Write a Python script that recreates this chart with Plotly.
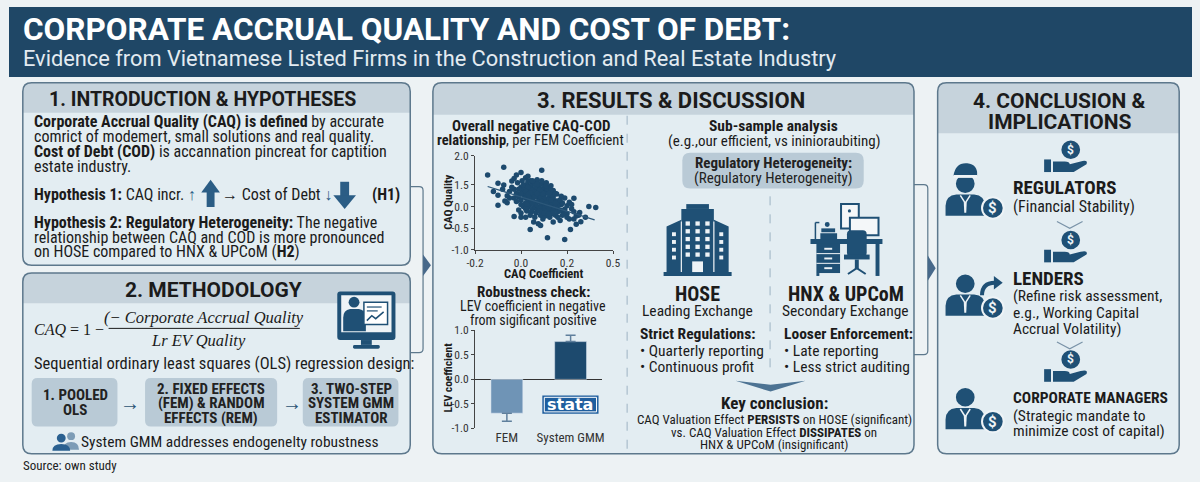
import plotly.graph_objects as go

W, H = 1200, 482

# FEM scatter: CAQ coefficient (x) vs CAQ quality (y)
CAQ_COEF = [
    -0.145, -0.075, 0.0, 0.09, -0.02, -0.1, -0.075, -0.1, -0.1, -0.03, 0.04, 0.115,
    0.19, 0.215, 0.24, 0.295, 0.325, 0.255, 0.23, 0.19, 0.2, 0.21, 0.23, 0.17,
    0.14, 0.075, 0.085, 0.095, 0.055, 0.0, 0.02, -0.06, -0.05, -0.07, -0.04, -0.03,
    0.02, 0.03, 0.05, 0.09, 0.1, 0.14, 0.155, 0.175, 0.155, 0.175, 0.18, 0.19,
    0.0, 0.01, 0.02, 0.03, 0.04, 0.05, 0.06, 0.07, 0.08, 0.09,
    0.1, 0.11, 0.12, 0.13, 0.14, -0.02, -0.01, 0.0, 0.01, 0.02,
    0.03, 0.04, 0.05, 0.06, 0.07, 0.08, 0.09, 0.1, 0.11, 0.12,
    0.13, 0.14, 0.15, 0.16, -0.03, -0.02, 0.0, 0.01, 0.02, 0.03,
    0.04, 0.05, 0.06, 0.07, 0.08, 0.09, 0.1, 0.11, 0.12, 0.13,
    0.14, 0.15, 0.16, 0.17, 0.02, 0.04, 0.06, 0.08, 0.1, 0.12,
    0.035, 0.055, 0.075, 0.095, 0.115, 0.045, 0.065, 0.085, 0.105, 0.125,
    0.025, 0.045, 0.065, 0.085, 0.105, 0.125, -0.01, 0.015, 0.06, 0.08,
    0.1, 0.12, 0.14, 0.16, 0.18, 0.19, 0.2, 0.22, 0.23, 0.21,
    -0.015, 0.005, 0.03, 0.07, 0.11, 0.13, -0.05, -0.04, -0.06, 0.25,
    0.26, 0.24, 0.035, 0.055, 0.075, 0.095, 0.045, 0.065, 0.085, 0.025,
    0.115, 0.135,
    0.01, 0.03, 0.05, 0.07, 0.09, 0.11, 0.13, 0.15, 0.0, 0.02,
    0.04, 0.06, 0.08, 0.1, 0.12, 0.14, 0.16, 0.18, 0.06, 0.04,
    0.02, -0.01, -0.03, 0.0, 0.07, 0.09, 0.11, 0.13, 0.15, 0.17,
    0.05, 0.03, 0.08, 0.1, 0.12, 0.2, 0.22, -0.08, -0.12, 0.28,
]
CAQ_QUAL = [
    0.73, 0.91, 0.79, 0.84, 0.73, 0.54, 0.5, 0.26, 0.03, -0.23, -0.53, -0.72,
    -0.76, -0.53, -0.41, 0.0, -0.02, -0.14, 0.19, 0.2, -0.16, -0.29, -0.29, -0.32,
    -0.36, -0.4, -0.44, -0.29, -0.36, -0.25, -0.25, 0.09, 0.2, 0.13, 0.59, 0.65,
    0.67, 0.58, 0.52, 0.54, 0.37, 0.37, 0.29, 0.24, 0.13, 0.05, -0.1, -0.06,
    0.45, 0.38, 0.42, 0.35, 0.48, 0.4, 0.33, 0.45, 0.3, 0.4,
    0.25, 0.32, 0.2, 0.27, 0.15, 0.3, 0.22, 0.15, 0.28, 0.2,
    0.12, 0.25, 0.18, 0.1, 0.22, 0.15, 0.05, 0.12, 0.02, 0.08,
    -0.02, 0.05, -0.05, 0.02, 0.4, 0.12, 0.05, 0.0, 0.08, -0.02,
    0.05, -0.05, 0.0, -0.08, -0.02, -0.12, -0.05, -0.15, -0.1, -0.18,
    -0.08, -0.2, -0.12, -0.08, 0.5, 0.6, 0.55, 0.5, 0.45, 0.4,
    0.3, 0.28, 0.35, 0.2, 0.15, 0.15, 0.05, 0.08, -0.02, 0.05,
    -0.1, -0.12, -0.15, -0.2, -0.22, -0.25, -0.08, 0.32, 0.42, 0.22,
    0.3, -0.03, 0.22, 0.12, 0.08, -0.15, 0.02, -0.05, -0.12, 0.1,
    0.55, 0.6, 0.7, 0.62, 0.55, 0.48, 0.35, 0.45, 0.25, -0.2,
    -0.35, -0.22, 0.2, 0.35, 0.12, 0.3, 0.38, 0.25, 0.4, 0.05,
    0.42, 0.1,
    0.5, 0.45, 0.6, 0.52, 0.6, 0.48, 0.38, 0.3, 0.3, 0.35,
    0.32, 0.22, 0.38, 0.18, 0.3, -0.15, -0.25, -0.2, -0.25, -0.2,
    -0.05, 0.4, 0.2, -0.15, 0.3, 0.12, 0.08, 0.15, 0.08, 0.15,
    0.08, 0.28, -0.1, -0.15, -0.18, -0.25, 0.05, 0.4, 0.35, -0.25,
]
TREND_X = [-0.145, 0.32]
TREND_Y = [0.465, -0.31]
SCATTER_XTICKS = ["-0.2", "0.0", "0.2", "0.5"]
SCATTER_YTICKS = ["-1.0", "-0.5", "0.0", "1.5", "2.0"]

# robustness check bars
MODELS = ["FEM", "System GMM"]
LEV_COEF = [-0.69, 0.77]
LEV_ERR_UP = [0, 0.13]
LEV_ERR_DOWN = [0.165, 0]
BAR_YTICKS = ["-1.0", "-0.5", "0.0", "0.5", "1.0"]

NAVY = "#1f4766"
ICON = "#1f5075"
INK = "#1b1b1b"
BAND = "#c6d3dc"
PANEL = "#e3edf2"
EDGE = "#5d788c"
BG = "#edf2f4"
LIGHT = "#eef3f6"
BOX = "#b9cad6"
NARROW = "Liberation Sans Narrow, Roboto Condensed, Arial Narrow, Roboto, sans-serif"
WIDE = "Roboto, Liberation Sans, sans-serif"
SERIF = "Liberation Serif, DejaVu Serif, serif"

shapes, ann = [], []


def X(x):
    return x / W


def Y(y):
    return 1 - y / H


def P(*parts):
    out = []
    for p in parts:
        if isinstance(p, str):
            out.append(p)
        else:
            out.append(f"{X(p[0]):.5f},{Y(p[1]):.5f}")
    return " ".join(out)


def add_path(d, fill=None, line=None, width=0, layer="below"):
    shapes.append(dict(type="path", xref="paper", yref="paper", path=d,
                       fillcolor=fill or "rgba(0,0,0,0)",
                       line=dict(color=line or "rgba(0,0,0,0)", width=width),
                       layer=layer))


def add_rect(x0, y0, x1, y1, fill, line=None, width=0, layer="below"):
    shapes.append(dict(type="rect", xref="paper", yref="paper",
                       x0=X(x0), x1=X(x1), y0=Y(y1), y1=Y(y0), fillcolor=fill,
                       line=dict(color=line or "rgba(0,0,0,0)", width=width),
                       layer=layer))


def add_line(x0, y0, x1, y1, color, width=1, dash=None, layer="below"):
    shapes.append(dict(type="line", xref="paper", yref="paper",
                       x0=X(x0), x1=X(x1), y0=Y(y0), y1=Y(y1),
                       line=dict(color=color, width=width, dash=dash), layer=layer))


def add_circle(cx, cy, r, fill, line=None, width=0, layer="below"):
    shapes.append(dict(type="circle", xref="paper", yref="paper",
                       x0=X(cx - r), x1=X(cx + r), y0=Y(cy + r), y1=Y(cy - r),
                       fillcolor=fill,
                       line=dict(color=line or "rgba(0,0,0,0)", width=width),
                       layer=layer))


def rr(x0, y0, x1, y1, r, square_bottom=False):
    if square_bottom:
        return P("M", (x0 + r, y0), "L", (x1 - r, y0), "Q", (x1, y0), (x1, y0 + r),
                 "L", (x1, y1), "L", (x0, y1), "L", (x0, y0 + r),
                 "Q", (x0, y0), (x0 + r, y0), "Z")
    return P("M", (x0 + r, y0), "L", (x1 - r, y0), "Q", (x1, y0), (x1, y0 + r),
             "L", (x1, y1 - r), "Q", (x1, y1), (x1 - r, y1), "L", (x0 + r, y1),
             "Q", (x0, y1), (x0, y1 - r), "L", (x0, y0 + r),
             "Q", (x0, y0), (x0 + r, y0), "Z")


def T(x, y, s, size=15, color=INK, anchor="left", family=NARROW, angle=0):
    ann.append(dict(x=X(x), y=Y(y), xref="paper", yref="paper", text=s,
                    showarrow=False, xanchor=anchor, yanchor="middle", borderpad=0,
                    textangle=angle, font=dict(size=size, color=color, family=family)))


def panel(x0, y0, x1, y1, band):
    add_path(rr(x0, y0, x1, y1, 9), fill=PANEL)
    add_path(rr(x0, y0, x1, band, 9, square_bottom=True), fill=BAND)
    add_path(rr(x0, y0, x1, y1, 9), line=EDGE, width=1.5)


def person(hx, hy, kind=None):
    add_circle(hx, hy, 9.5, ICON)
    add_path(P("M", (hx - 20, hy + 33), "L", (hx - 20, hy + 23), "Q", (hx - 20, hy + 12), (hx - 9, hy + 11),
               "L", (hx + 9, hy + 11), "Q", (hx + 20, hy + 12), (hx + 20, hy + 23),
               "L", (hx + 20, hy + 33), "Z"), fill=ICON)
    add_path(P("M", (hx - 5, hy + 12), "L", (hx, hy + 20), "L", (hx + 5, hy + 12)), line=LIGHT, width=1.5)
    add_path(P("M", (hx - 1.5, hy + 19), "L", (hx + 1.5, hy + 19), "L", (hx + 1, hy + 30),
               "L", (hx - 1, hy + 30), "Z"), fill=LIGHT)
    if kind == "officer":
        add_path(P("M", (hx - 12, hy - 8), "Q", (hx - 10, hy - 22), (hx + 2, hy - 21),
                   "Q", (hx + 13, hy - 20), (hx + 12, hy - 8), "Z"), fill=ICON)
        add_rect(hx - 12, hy - 9, hx + 12, hy - 6, LIGHT)
    if kind == "lender":
        add_path(P("M", (hx + 17, hy + 12), "Q", (hx + 17, hy - 1), (hx + 30, hy - 1)), line=ICON, width=4)
        add_path(P("M", (hx + 29, hy - 8), "L", (hx + 38, hy - 1), "L", (hx + 29, hy + 6), "Z"), fill=ICON)
    add_circle(hx + 28, hy + 25, 11, ICON, line=LIGHT, width=2)
    T(hx + 28, hy + 25, "<b>$</b>", 15, LIGHT, "center", WIDE)


def hand_coin(cx, cy):
    add_circle(cx, cy, 9.5, ICON)
    T(cx, cy, "<b>$</b>", 12, LIGHT, "center", WIDE)
    add_rect(cx - 27, cy + 10, cx - 20, cy + 23, ICON)
    add_path(P("M", (cx - 18, cy + 12), "L", (cx - 6, cy + 12), "Q", (cx - 1, cy + 12), (cx - 1, cy + 15),
               "L", (cx + 10, cy + 12), "Q", (cx + 18, cy + 10), (cx + 16, cy + 15),
               "L", (cx + 3, cy + 23), "L", (cx - 18, cy + 23), "Z"), fill=ICON)


# header band
add_rect(0, 0, W, 72, NAVY)
T(13, 23, "<b>CORPORATE ACCRUAL QUALITY AND COST OF DEBT:</b>", 31.5, "#ffffff", family=WIDE)
T(13, 53, "Evidence from Vietnamese Listed Firms in the Construction and Real Estate Industry", 21.8, "#e3ebf1", family=WIDE)

# panels
panel(14, 78, 407, 266, 109)
panel(14, 274, 407, 460, 305)
panel(430, 78, 918, 460, 111)
panel(942, 78, 1187, 460, 130)

# connectors between panels
add_path(P("M", (407, 185), "L", (416, 185), "Q", (420, 185), (420, 189), "L", (420, 352),
           "Q", (420, 356), (416, 356), "L", (407, 356)), line=EDGE, width=1.2)
add_path(P("M", (420, 255), "L", (428, 266), "L", (420, 277), "Z"), fill="#48698a")
add_path(P("M", (918, 183), "L", (928, 183), "Q", (932, 183), (932, 187), "L", (932, 354),
           "Q", (932, 358), (928, 358), "L", (918, 358)), line=EDGE, width=1.2)
add_path(P("M", (932, 256), "L", (940, 269), "L", (932, 282), "Z"), fill="#48698a")

# ---- 1. introduction
T(196, 95, "<b>1. INTRODUCTION & HYPOTHESES</b>", 19.5, INK, "center", WIDE)
T(24, 118, "<b>Corporate Accrual Quality (CAQ) is defined</b> by accurate", 16)
T(24, 133, "comrict of modemert, small solutions and real quality.", 16)
T(24, 149, "<b>Cost of Debt (COD)</b> is accannation pincreat for captition", 16)
T(24, 164, "estate industry.", 16)
T(24, 193, "<b>Hypothesis 1:</b> CAQ incr. <span style='color:#2b5d85'>↑</span>", 16)
add_path(P("M", (195, 191), "L", (204.5, 178), "L", (214, 191), "Z"), fill="#2b5d85")
add_rect(200.5, 190, 208.5, 206, "#2b5d85")
T(215, 193, "→ Cost of Debt <span style='color:#2b5d85'>↓</span>", 16)
add_rect(336, 180, 345, 195, "#2b5d85")
add_path(P("M", (329, 194), "L", (340.5, 208), "L", (352, 194), "Z"), fill="#2b5d85")
T(367, 193, "<b>(H1)</b>", 16)
T(24, 222, "<b>Hypothesis 2: Regulatory Heterogeneity:</b> The negative", 16)
T(24, 237, "relationship between CAQ and COD is more pronounced", 16)
T(24, 252, "on HOSE compared to HNX & UPCoM (<b>H2</b>)", 16)

# ---- 2. methodology
T(207, 291, "<b>2. METHODOLOGY</b>", 21, INK, "center", WIDE)
T(24, 332, "<i>CAQ</i> = 1 −", 16, INK, family=SERIF)
T(198, 320, "<i>(− Corporate Accrual Quality</i>", 16.5, INK, "center", SERIF)
add_line(101, 331, 295, 331, INK, 1)
T(192, 343, "<i>Lr EV Quality</i>", 16.5, INK, "center", SERIF)
# computer icon
add_path(rr(333, 293, 392, 343, 3), fill=ICON)
add_rect(337, 297, 388, 335, LIGHT)
add_circle(350, 304, 5.5, ICON)
add_path(P("M", (339, 334), "L", (339, 320), "Q", (339, 312), (346, 311), "L", (355, 311),
           "Q", (362, 312), (362, 320), "L", (362, 334), "Z"), fill=ICON)
add_rect(360, 304, 384, 327, "#ffffff", ICON, 1.5)
add_line(363, 309, 378, 309, ICON, 1.2)
add_line(363, 313, 374, 313, ICON, 1.2)
add_path(P("M", (363, 323), "L", (368, 318), "L", (372, 321), "L", (380, 314)), line=ICON, width=1.5)
add_rect(357, 343, 368, 348, ICON)
add_path(rr(349, 348, 376, 352, 1.5), fill=ICON)

T(24, 367, "Sequential ordinary least squares (OLS) regression design:", 16.5)
for bx0, bx1 in [(23, 110), (138, 272), (298, 395)]:
    add_path(rr(bx0, 382, bx1, 432, 6), fill=BOX)
T(67, 400, "<b>1. POOLED</b>", 15, "#222", "center")
T(67, 415, "<b>OLS</b>", 15, "#222", "center")
T(205, 393, "<b>2. FIXED EFFECTS</b>", 15, "#222", "center")
T(205, 408, "<b>(FEM) & RANDOM</b>", 15, "#222", "center")
T(205, 423, "<b>EFFECTS (REM)</b>", 15, "#222", "center")
T(347, 393, "<b>3. TWO-STEP</b>", 15, "#222", "center")
T(347, 408, "<b>SYSTEM GMM</b>", 15, "#222", "center")
T(347, 423, "<b>ESTIMATOR</b>", 15, "#222", "center")
T(123, 408, "→", 20, "#2b5373", "center", WIDE)
T(287, 408, "→", 20, "#2b5373", "center", WIDE)
# people icon
add_circle(63, 442, 4, "#7d9cb6")
add_path(P("M", (55, 456), "Q", (55, 448), (63, 448), "Q", (71, 448), (71, 456), "Z"), fill="#7d9cb6")
add_circle(53, 444, 4.5, "#2a6090")
add_path(P("M", (44, 457), "Q", (44, 450), (53, 450), "Q", (62, 450), (62, 457), "Z"), fill="#2a6090")
T(72, 448, "System GMM addresses endogenelty robustness", 15.5)
T(13, 472, "Source: own study", 13, "#222")

# ---- 3. results
T(672, 96, "<b>3. RESULTS & DISCUSSION</b>", 22, INK, "center", WIDE)
add_line(627, 112, 627, 458, "#9db3c3", 1, "dash")
T(529, 123, "<b>Overall negative CAQ-COD</b>", 15, INK, "center")
T(529, 138, "<b>relationship</b>, per FEM Coefficient", 14.5, INK, "center")
T(445, 201, "<b>CAQ Quality</b>", 11.5, INK, "center", angle=-90)
T(542, 274, "<b>CAQ Coefficient</b>", 12.5, INK, "center")
T(532, 294, "<b>Robustness check:</b>", 15, INK, "center")
T(532, 308, "LEV coefficient in negative", 14, INK, "center")
T(532, 322, "from sigificant positive", 14, INK, "center")
T(445, 382, "<b>LEV coefficient</b>", 11.5, INK, "center", angle=-90)
# stata logo
add_rect(541, 400, 598, 419, "#1f5e9e", layer="above")
add_rect(543, 402, 596, 417, "rgba(0,0,0,0)", "#ffffff", 1, layer="above")
T(569.5, 409.5, "<b>stata</b>", 16, "#ffffff", "center", "DejaVu Sans, sans-serif")

T(775, 123, "<b>Sub-sample analysis</b>", 15.5, INK, "center")
T(776, 138, "(e.g.,our efficient, vs ininioraubiting)", 15, INK, "center")
add_path(rr(683, 150, 867, 187, 8), fill=BOX)
T(775, 161, "<b>Regulatory Heterogeneity:</b>", 15, "#222", "center")
T(775, 176, "(Regulatory Heterogeneity)", 15, "#222", "center")
add_line(772, 195, 772, 378, "#9db3c3", 1, "dash")

# building icon (HOSE)
add_rect(687, 203, 710, 208, ICON)
add_rect(682, 208, 715, 277, ICON)
add_path(P("M", (667, 226), "L", (682, 219), "L", (682, 277), "L", (667, 277), "Z"), fill=ICON)
add_path(P("M", (715, 219), "L", (730, 226), "L", (730, 277), "L", (715, 277), "Z"), fill=ICON)
add_line(682, 221, 682, 273, LIGHT, 1.2)
add_line(715, 221, 715, 273, LIGHT, 1.2)
add_rect(664, 273, 733, 277, ICON)
for wx in (688.5, 698.5, 708.5):
    for wy in (223, 231, 239, 247, 255):
        add_rect(wx - 2.2, wy - 2.2, wx + 2.2, wy + 2.2, LIGHT)
for wx in (674.5, 722.5):
    for wy in (234, 242, 250, 258):
        add_rect(wx - 2, wy - 2, wx + 2, wy + 2, LIGHT)
add_rect(693, 262, 704, 273, LIGHT)

# desk icon (HNX & UPCoM)
add_rect(844, 203, 862, 228, "#f4f7f9", ICON, 2)
add_circle(852.5, 210, 1.6, ICON)
add_rect(853, 217, 882, 235, "#f4f7f9", ICON, 2)
add_rect(866, 235, 869, 240, ICON)
add_rect(813, 239, 886, 244, ICON)
add_rect(819, 244, 843, 274, ICON)
add_line(819, 254, 843, 254, LIGHT, 1)
add_line(819, 264, 843, 264, LIGHT, 1)
for dy in (249, 259, 269):
    add_rect(827, dy - 1, 835, dy + 1, LIGHT)
add_rect(819, 274, 822, 277, ICON)
add_rect(879, 244, 883, 277, ICON)
add_path(rr(850, 230, 870, 257, 4), fill=ICON)
add_rect(847, 255, 873, 260, ICON)
add_rect(858, 260, 862, 270, ICON)
add_path(P("M", (851, 275), "L", (860, 269), "L", (869, 275)), line=ICON, width=2)
add_rect(823, 233, 840, 239, ICON)
add_rect(824, 228, 838, 232, ICON)
add_circle(830, 224, 2.5, ICON)
add_line(818, 222, 818, 239, ICON, 1.5)
add_line(818, 222, 822, 222, ICON, 1.5)

T(698, 296, "<b>HOSE</b>", 20, INK, "center")
T(698, 313, "Leading Exchange", 15.5, INK, "center")
T(849, 296, "<b>HNX & UPCoM</b>", 20, INK, "center")
T(849, 313, "Secondary Exchange", 15.5, INK, "center")
T(639, 337, "<b>Strict Regulations:</b>", 15.5)
T(639, 354, "• Quarterly reporting", 15.5)
T(639, 371, "• Continuous profit", 15.5)
T(785, 337, "<b>Looser Enforcement:</b>", 15.5)
T(785, 354, "• Late reporting", 15.5)
T(785, 371, "• Less strict auditing", 15.5)
add_path(P("M", (737, 385), "L", (772.5, 389), "L", (808, 385), "L", (772.5, 396), "Z"), fill="#4d7393")
T(776, 408, "<b>Key conclusion:</b>", 17, INK, "center")
T(776, 425, "CAQ Valuation Effect <b>PERSISTS</b> on HOSE (significant)", 13, INK, "center")
T(776, 438, "vs. CAQ Valuation Effect <b>DISSIPATES</b> on", 13, INK, "center")
T(776, 451, "HNX & UPCoM (insignificant)", 13, INK, "center")

# ---- 4. conclusion
T(1066, 97, "<b>4. CONCLUSION &</b>", 21, INK, "center", WIDE)
T(1066, 118, "<b>IMPLICATIONS</b>", 21, INK, "center", WIDE)
hand_coin(1077, 147)
hand_coin(1077, 240)
hand_coin(1077, 363)
add_path(P("M", (1063, 221), "L", (1076, 228), "L", (1089, 221)), line="#7a93a8", width=1.2)
add_path(P("M", (1063, 345), "L", (1076, 352), "L", (1089, 345)), line="#7a93a8", width=1.2)
person(970, 182, "officer")
person(970, 285, "lender")
person(970, 402)
T(1017, 186, "<b>REGULATORS</b>", 19)
T(1017, 205, "(Financial Stability)", 16)
T(1017, 280, "<b>LENDERS</b>", 19)
T(1017, 298, "(Refine risk assessment,", 15.5)
T(1017, 315, "e.g., Working Capital", 15.5)
T(1017, 332, "Accrual Volatility)", 15.5)
T(1017, 403, "<b>CORPORATE MANAGERS</b>", 15.5)
T(1017, 421, "(Strategic mandate to", 15.5)
T(1017, 437, "minimize cost of capital)", 15.5)

fig = go.Figure()
fig.add_trace(go.Scatter(x=CAQ_COEF, y=CAQ_QUAL, mode="markers",
                         marker=dict(size=5.5, color="#1d4a6e"),
                         xaxis="x", yaxis="y", hoverinfo="x+y"))
fig.add_trace(go.Scatter(x=TREND_X, y=TREND_Y, mode="lines",
                         line=dict(color="#2d587a", width=1.3),
                         xaxis="x", yaxis="y", hoverinfo="skip"))
fig.add_trace(go.Bar(x=MODELS, y=LEV_COEF, width=0.5,
                     marker=dict(color=["#6f94b6", "#1d4a6e"]),
                     error_y=dict(type="data", symmetric=False, array=LEV_ERR_UP,
                                  arrayminus=LEV_ERR_DOWN, color="#5f7f9c",
                                  thickness=1.5, width=5),
                     xaxis="x2", yaxis="y2"))

tickfont = dict(family=NARROW, size=11.5, color="#333")
fig.update_layout(
    width=W, height=H, margin=dict(l=0, r=0, t=0, b=0),
    paper_bgcolor=BG, plot_bgcolor="rgba(0,0,0,0)", showlegend=False,
    xaxis=dict(domain=[X(472.7), X(612.7)], range=[-0.2, 0.4], anchor="y",
               tickvals=[-0.2, 0, 0.2, 0.4], ticktext=SCATTER_XTICKS,
               showline=True, linecolor="#444", ticks="outside", ticklen=3,
               ticklabelstandoff=-1,
               tickcolor="#444", showgrid=False, zeroline=False, tickfont=tickfont),
    yaxis=dict(domain=[Y(250), Y(153.3)], range=[-1.0, 1.175], anchor="x",
               tickvals=[-1, -0.5, 0, 0.5, 1.175], ticktext=SCATTER_YTICKS,
               showline=True, linecolor="#444", ticks="outside", ticklen=3,
               tickcolor="#444", showgrid=False, zeroline=False, tickfont=tickfont),
    xaxis2=dict(domain=[X(472.7), X(602)], anchor="y2", showline=False, ticks="",
                showgrid=False, zeroline=False,
                tickfont=dict(family=NARROW, size=13, color="#333")),
    yaxis2=dict(domain=[Y(434), Y(333)], range=[-1.0, 1.0], anchor="x2",
                tickvals=[-1, -0.5, 0, 0.5, 1], ticktext=BAR_YTICKS,
                showline=True, linecolor="#444", ticks="outside", ticklen=3,
                tickcolor="#444", showgrid=False, zeroline=True,
                zerolinecolor="#333", zerolinewidth=1.2, tickfont=tickfont),
    shapes=shapes, annotations=ann,
)

# drop the default page margin so the 1200x482 figure fills the window
fig.write_html("out.html", config={"displayModeBar": False}, post_script=(
    "document.documentElement.style.cssText='margin:0;padding:0;overflow:hidden;background:" + BG + "';"
    "document.body.style.cssText='margin:0;padding:0;overflow:hidden;background:" + BG + "';"
    "var gd=document.getElementById('{plot_id}');gd.parentElement.style.margin='0';"
    "window.scrollTo(0,0);"))
